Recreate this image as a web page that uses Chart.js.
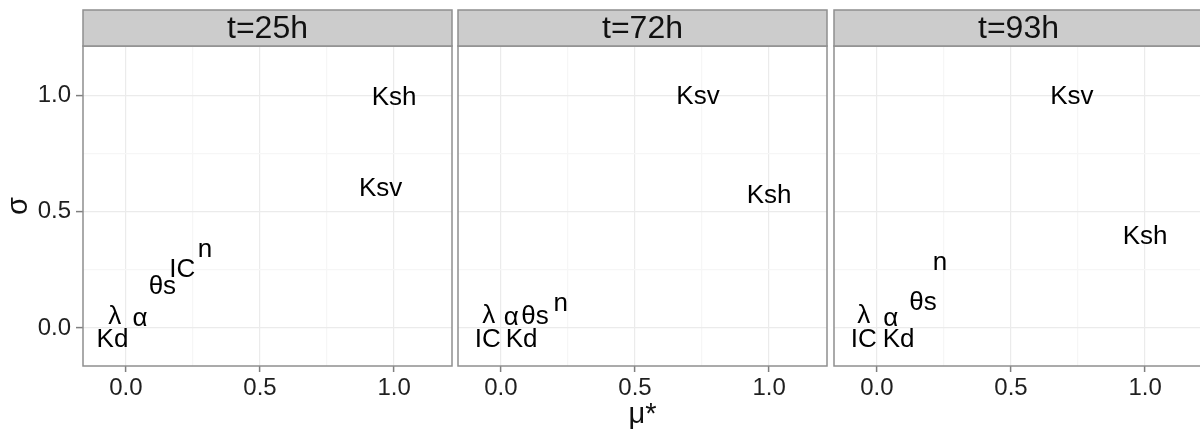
<!DOCTYPE html>
<html>
<head>
<meta charset="utf-8">
<script src="https://cdn.jsdelivr.net/npm/chart.js@4.4.1/dist/chart.umd.min.js"></script>
<style>
  html, body { margin: 0; padding: 0; background: #fff; overflow: hidden; }
  body { width: 1200px; height: 434px; position: relative; }
  .panel { position: absolute; top: 0; }
</style>
</head>
<body>
<canvas id="c1" class="panel" style="left:0" width="455" height="434"></canvas>
<canvas id="c2" class="panel" style="left:455px" width="375" height="434"></canvas>
<canvas id="c3" class="panel" style="left:830px" width="376" height="434"></canvas>
<script>
// Morris screening results: mu* vs sigma per parameter, one facet per time
const params = ['Ksh', 'Ksv', 'n', 'IC', 'θs', 'α', 'λ', 'Kd'];
const facets = ['t=25h', 't=72h', 't=93h'];

const mu25 = [1.00, 0.95, 0.295, 0.21, 0.136, 0.053, -0.042, -0.05];
const sigma25 = [0.99, 0.60, 0.337, 0.249, 0.177, 0.04, 0.05, -0.05];

const mu72 = [1.00, 0.735, 0.223, -0.049, 0.127, 0.039, -0.045, 0.077];
const sigma72 = [0.567, 0.993, 0.103, -0.05, 0.05, 0.042, 0.054, -0.05];

const mu93 = [1.00, 0.727, 0.235, -0.049, 0.172, 0.052, -0.049, 0.081];
const sigma93 = [0.39, 0.993, 0.281, -0.05, 0.11, 0.04, 0.052, -0.05];

const gridTicks = [0, 0.25, 0.5, 0.75, 1.0];
const majorTicks = [0, 0.5, 1.0];

const FONT = '"Liberation Sans", Arial, sans-serif';
const STRIP_H = 36;

const facetPlugin = {
    id: 'facet',
    afterDraw(chart, args, opts) {
        const ctx = chart.ctx;
        const a = chart.chartArea;
        ctx.save();
        ctx.strokeStyle = '#8f8f8f';
        ctx.lineWidth = 1.5;
        ctx.strokeRect(a.left, a.top, a.right - a.left, a.bottom - a.top);

        // strip on top of the panel
        ctx.fillStyle = '#cccccc';
        ctx.fillRect(a.left, a.top - STRIP_H, a.right - a.left, STRIP_H);
        ctx.strokeRect(a.left, a.top - STRIP_H, a.right - a.left, STRIP_H);
        ctx.fillStyle = '#111';
        ctx.font = '32px ' + FONT;
        ctx.textAlign = 'center';
        ctx.textBaseline = 'middle';
        ctx.fillText(opts.title, (a.left + a.right) / 2, a.top - STRIP_H / 2 + 1);

        // parameter names at the points
        ctx.font = '26px ' + FONT;
        ctx.fillStyle = '#000';
        const meta = chart.getDatasetMeta(0);
        meta.data.forEach((pt, i) => {
            ctx.fillText(chart.data.datasets[0].data[i].label, pt.x, pt.y);
        });
        ctx.restore();
    }
};

function makePanel(id, title, xs, ys, yWidth, first, middle) {
    const points = params.map((p, i) => ({ x: xs[i], y: ys[i], label: p }));
    return new Chart(document.getElementById(id), {
        type: 'scatter',
        data: {
            datasets: [{
                data: points,
                pointRadius: 0,
                pointHoverRadius: 0
            }]
        },
        plugins: [facetPlugin],
        options: {
            responsive: false,
            animation: false,
            events: [],
            layout: {
                padding: { top: 46, right: 3, left: 0, bottom: 0 }
            },
            plugins: {
                legend: { display: false },
                tooltip: { enabled: false },
                facet: { title: title }
            },
            scales: {
                x: {
                    type: 'linear',
                    min: -0.16,
                    max: 1.216,
                    afterBuildTicks: s => { s.ticks = gridTicks.map(v => ({ value: v })); },
                    afterFit: s => { s.height = 68; },
                    border: { display: false },
                    grid: {
                        color: c => majorTicks.includes(c.tick.value) ? '#ebebeb' : '#f6f6f6',
                        lineWidth: 1.2,
                        drawTicks: true,
                        tickLength: 6,
                        tickColor: c => majorTicks.includes(c.tick.value) ? '#7f7f7f' : 'rgba(0,0,0,0)',
                        tickWidth: 1.5
                    },
                    ticks: {
                        autoSkip: false,
                        maxRotation: 0,
                        padding: 2,
                        color: '#1f1f1f',
                        font: { family: FONT, size: 24, lineHeight: 1.2 },
                        callback: v => majorTicks.includes(v) ? v.toFixed(1) : ''
                    },
                    title: {
                        display: middle,
                        text: 'μ*',
                        color: '#111',
                        padding: { top: 0, bottom: 2 },
                        font: { family: FONT, size: 29, lineHeight: 1.2 }
                    }
                },
                y: {
                    type: 'linear',
                    min: -0.163,
                    max: 1.212,
                    afterBuildTicks: s => { s.ticks = gridTicks.map(v => ({ value: v })); },
                    afterFit: s => { s.width = yWidth; },
                    border: { display: false },
                    grid: {
                        color: c => majorTicks.includes(c.tick.value) ? '#ebebeb' : '#f6f6f6',
                        lineWidth: 1.2,
                        drawTicks: first,
                        tickLength: 7,
                        tickColor: c => majorTicks.includes(c.tick.value) ? '#7f7f7f' : 'rgba(0,0,0,0)',
                        tickWidth: 1.5
                    },
                    ticks: {
                        display: first,
                        autoSkip: false,
                        padding: 5,
                        color: '#1f1f1f',
                        font: { family: FONT, size: 24, lineHeight: 1.2 },
                        callback: v => majorTicks.includes(v) ? v.toFixed(1) : ''
                    },
                    title: {
                        display: first,
                        text: 'σ',
                        color: '#111',
                        padding: { top: 2, bottom: 0 },
                        font: { family: FONT, size: 29, lineHeight: 1.2 }
                    }
                }
            }
        }
    });
}

makePanel('c1', facets[0], mu25, sigma25, 83, true, false);
makePanel('c2', facets[1], mu72, sigma72, 3, false, true);
makePanel('c3', facets[2], mu93, sigma93, 4, false, false);
</script>
</body>
</html>
